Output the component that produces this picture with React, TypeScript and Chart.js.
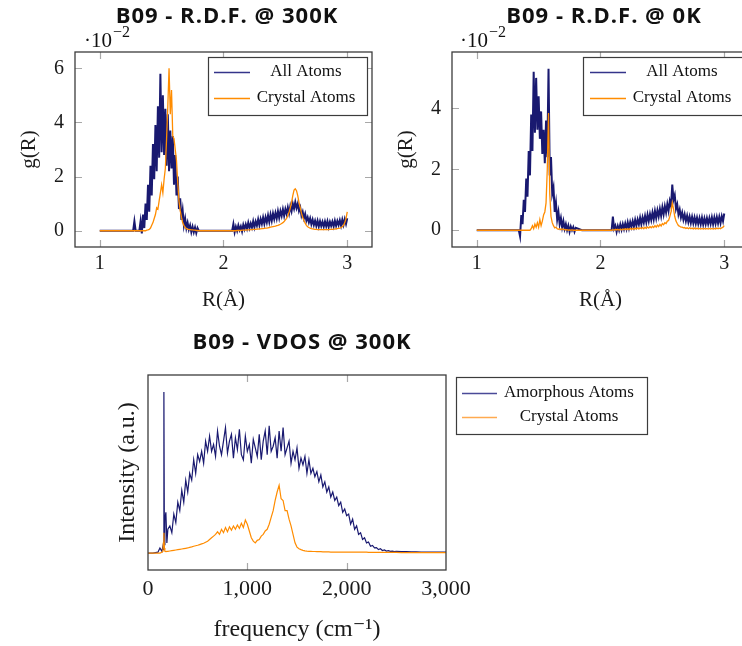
import React, { useEffect, useRef } from 'react';
import { Chart, registerables } from 'chart.js';
Chart.register(...registerables);

const SERIF = '"Liberation Serif", "DejaVu Serif", serif';
const SANS = '"Open Sans", Lato, sans-serif';
const BLUE = '#191970';
const ORANGE = '#ff8c00';

// ---------- R.D.F. data (shared R grid, Å) ----------
const rGrid = [
  1.00, 1.05, 1.10, 1.15, 1.20, 1.25, 1.27,
  1.28, 1.29, 1.30, 1.31, 1.32, 1.33, 1.34, 1.35, 1.36, 1.37,
  1.38, 1.39, 1.40, 1.41, 1.42, 1.43, 1.44, 1.45, 1.46, 1.47,
  1.48, 1.49, 1.50, 1.51, 1.52, 1.53, 1.54, 1.55, 1.56, 1.57,
  1.58, 1.59, 1.60, 1.61, 1.62, 1.63, 1.64, 1.65, 1.66, 1.67,
  1.68, 1.69, 1.70, 1.71, 1.72, 1.73, 1.74, 1.75, 1.76, 1.77,
  1.78, 1.79, 1.80,
  1.85, 1.90, 1.95, 2.00, 2.05, 2.07,
  2.08, 2.09, 2.10, 2.11, 2.12, 2.13, 2.14, 2.15, 2.16, 2.17,
  2.18, 2.19, 2.20, 2.21, 2.22, 2.23, 2.24, 2.25, 2.26, 2.27,
  2.28, 2.29, 2.30, 2.31, 2.32, 2.33, 2.34, 2.35, 2.36, 2.37,
  2.38, 2.39, 2.40, 2.41, 2.42, 2.43, 2.44, 2.45, 2.46, 2.47,
  2.48, 2.49, 2.50, 2.51, 2.52, 2.53, 2.54, 2.55, 2.56, 2.57,
  2.58, 2.59, 2.60, 2.61, 2.62, 2.63, 2.64, 2.65, 2.66, 2.67,
  2.68, 2.69, 2.70, 2.71, 2.72, 2.73, 2.74, 2.75, 2.76, 2.77,
  2.78, 2.79, 2.80, 2.81, 2.82, 2.83, 2.84, 2.85, 2.86, 2.87,
  2.88, 2.89, 2.90, 2.91, 2.92, 2.93, 2.94, 2.95, 2.96, 2.97,
  2.98, 2.99, 3.00,
];

// g(R) in units of 1e-2, 300K, all atoms
const rdf300All = [
  0, 0, 0, 0, 0, 0, 0,
  0.35, 0, 0, 0, 0, 0.35, -0.1, 0.6, 0.1, 1.0,
  0.4, 1.7, 0.7, 2.4, 1.3, 3.2, 1.9, 3.9, 2.2, 4.6,
  2.7, 5.8, 2.9, 5.0, 2.8, 4.5, 2.4, 4.3, 2.2, 3.7,
  2.3, 3.5, 1.7, 2.8, 1.3, 2.0, 0.8, 1.2, 0.4, 0.75,
  0.2, 0.45, 0.1, 0.3, 0.05, 0.2, -0.05, 0.15, -0.05, 0.12,
  -0.08, 0.1, 0,
  0, 0, 0, 0, 0, 0,
  0.25, -0.05, 0.15, 0.0, 0.2, 0.03, 0.16, -0.02, 0.22, 0.06,
  0.24, 0.08, 0.3, 0.1, 0.27, 0.12, 0.35, 0.13, 0.34, 0.19,
  0.42, 0.2, 0.43, 0.25, 0.49, 0.26, 0.5, 0.31, 0.57, 0.33,
  0.6, 0.37, 0.64, 0.43, 0.66, 0.45, 0.72, 0.48, 0.73, 0.55,
  0.79, 0.55, 0.8, 0.62, 0.86, 0.64, 0.91, 0.72, 1.0, 0.82,
  1.06, 0.84, 1.0, 0.73, 0.86, 0.56, 0.7, 0.46, 0.62, 0.37,
  0.5, 0.31, 0.46, 0.24, 0.41, 0.21, 0.37, 0.18, 0.37, 0.16,
  0.35, 0.17, 0.33, 0.15, 0.34, 0.16, 0.35, 0.14, 0.33, 0.18,
  0.34, 0.16, 0.37, 0.18, 0.36, 0.21, 0.39, 0.19, 0.41, 0.22,
  0.43, 0.25, 0.46,
];

// 300K, crystal atoms
const rdf300Crystal = [
  0, 0, 0, 0, 0, 0, 0,
  0, 0, 0, 0, 0, 0, 0, 0, 0, 0,
  0.02, 0.03, 0.05, 0.1, 0.2, 0.3, 0.45, 0.6, 0.85, 0.8,
  1.1, 1.4, 1.7, 1.4, 1.9, 2.3, 3.4, 4.6, 6.0, 4.3,
  5.2, 3.5, 3.4, 3.0, 2.6, 1.8, 1.1, 0.75, 0.5, 0.3,
  0.2, 0.12, 0.08, 0.06, 0.05, 0.04, 0.03, 0.03, 0.02, 0.02,
  0.01, 0.01, 0,
  0, 0, 0, 0, 0, 0,
  0, 0, 0, 0.01, 0.01, 0.01, 0.01, 0.02, 0.02, 0.02,
  0.02, 0.03, 0.03, 0.03, 0.04, 0.04, 0.05, 0.05, 0.05, 0.06,
  0.06, 0.07, 0.07, 0.08, 0.08, 0.09, 0.1, 0.1, 0.11, 0.12,
  0.13, 0.14, 0.15, 0.16, 0.17, 0.19, 0.2, 0.22, 0.24, 0.27,
  0.3, 0.34, 0.4, 0.46, 0.55, 0.68, 0.85, 1.05, 1.3, 1.5,
  1.55, 1.48, 1.3, 1.05, 0.85, 0.65, 0.5, 0.38, 0.28, 0.2,
  0.15, 0.12, 0.1, 0.08, 0.07, 0.06, 0.05, 0.05, 0.04, 0.04,
  0.04, 0.04, 0.04, 0.04, 0.04, 0.04, 0.04, 0.04, 0.05, 0.05,
  0.05, 0.06, 0.06, 0.07, 0.08, 0.09, 0.1, 0.12, 0.15, 0.2,
  0.3, 0.45, 0.7,
];

// 0K, all atoms
const rdf0All = [
  0, 0, 0, 0, 0, 0, 0,
  0, 0, 0, 0, 0, 0, 0, -0.2, 0.5, 0.2,
  1.0, 0.6, 1.7, 1.1, 2.6, 1.8, 3.8, 2.6, 5.2, 3.2,
  5.0, 3.3, 4.4, 3.0, 3.9, 2.5, 3.3, 2.2, 3.6, 2.4,
  5.3, 1.8, 2.4, 1.2, 1.4, 0.6, 0.9, 0.35, 0.6, 0.2,
  0.4, 0.1, 0.3, 0.05, 0.2, 0.0, 0.15, -0.05, 0.12, 0.0,
  0.1, -0.05, 0.08,
  0, 0, 0, 0, 0, 0,
  0, 0, 0.45, 0.05, 0.15, -0.05, 0.14, 0.0, 0.19, 0.02,
  0.2, 0.04, 0.22, 0.05, 0.26, 0.07, 0.27, 0.11, 0.3, 0.12,
  0.34, 0.15, 0.35, 0.19, 0.41, 0.2, 0.42, 0.25, 0.47, 0.26,
  0.51, 0.3, 0.53, 0.34, 0.58, 0.36, 0.63, 0.4, 0.65, 0.45,
  0.7, 0.47, 0.75, 0.52, 0.79, 0.58, 0.86, 0.64, 0.96, 0.8,
  1.5, 1.0, 1.15, 0.7, 0.85, 0.52, 0.68, 0.42, 0.58, 0.35,
  0.52, 0.3, 0.48, 0.27, 0.45, 0.24, 0.44, 0.23, 0.42, 0.22,
  0.41, 0.21, 0.4, 0.2, 0.41, 0.19, 0.39, 0.2, 0.4, 0.21,
  0.4, 0.21, 0.42, 0.2, 0.42, 0.22, 0.43, 0.23, 0.44, 0.24,
  0.46, 0.3, 0.55,
];

// 0K, crystal atoms
const rdf0Crystal = [
  0, 0, 0, 0, 0, 0, 0,
  0, 0, 0, 0, 0, 0, 0, 0, 0, 0,
  0, 0, 0, 0, 0, 0, 0.05, 0.15, 0.05, 0.2,
  0.1, 0.25, 0.1, 0.35, 0.15, 0.3, 0.5, 0.6, 0.9, 2.0,
  3.85, 1.2, 0.45, 0.25, 0.15, 0.08, 0.1, 0.05, 0.03, 0.05,
  0.02, 0.04, 0.02, 0.03, 0.01, 0.02, 0, 0.01, 0, 0.01,
  0, 0, 0,
  0, 0, 0, 0, 0, 0,
  0, 0, 0.02, 0.0, 0.03, 0.01, 0.03, 0.0, 0.04, 0.01,
  0.04, 0.02, 0.05, 0.02, 0.05, 0.02, 0.06, 0.03, 0.06, 0.03,
  0.07, 0.04, 0.08, 0.04, 0.08, 0.05, 0.09, 0.05, 0.1, 0.06,
  0.11, 0.07, 0.12, 0.08, 0.13, 0.09, 0.15, 0.1, 0.17, 0.12,
  0.19, 0.14, 0.22, 0.18, 0.25, 0.22, 0.3, 0.32, 0.45, 0.6,
  0.9, 0.7, 0.45, 0.3, 0.22, 0.15, 0.13, 0.1, 0.1, 0.08,
  0.09, 0.06, 0.08, 0.05, 0.08, 0.05, 0.07, 0.04, 0.07, 0.04,
  0.07, 0.04, 0.06, 0.04, 0.06, 0.04, 0.06, 0.04, 0.06, 0.04,
  0.06, 0.04, 0.06, 0.04, 0.06, 0.04, 0.07, 0.05, 0.07, 0.05,
  0.08, 0.1, 0.15,
];

// ---------- VDOS data (cm^-1, arbitrary units) ----------
const freq = [
  0, 50, 100, 120, 140, 150, 155, 160, 165, 170, 180, 190, 200,
  220, 240, 260, 280, 300, 320, 340, 360, 380, 400,
  420, 440, 460, 480, 500, 520, 540, 560, 580, 600,
  620, 640, 660, 680, 700, 720, 740, 760, 780, 800,
  820, 840, 860, 880, 900, 920, 940, 960, 980, 1000,
  1020, 1040, 1060, 1080, 1100, 1120, 1140, 1160, 1180, 1200,
  1220, 1240, 1260, 1280, 1300, 1320, 1340, 1360, 1380, 1400,
  1420, 1440, 1460, 1480, 1500, 1520, 1540, 1560, 1580, 1600,
  1620, 1640, 1660, 1680, 1700, 1720, 1740, 1760, 1780, 1800,
  1820, 1840, 1860, 1880, 1900, 1920, 1940, 1960, 1980, 2000,
  2020, 2040, 2060, 2080, 2100, 2120, 2140, 2160, 2180, 2200,
  2220, 2240, 2260, 2280, 2300, 2320, 2340, 2360, 2380, 2400,
  2420, 2440, 2460, 2480, 2500,
  2550, 2600, 2650, 2700, 2750, 2800, 2850, 2900, 2950, 3000,
];

const vdosAmorphous = [
  0, 0, 0.005, 0.03, 0.01, 0.04, 0.02, 0.95, 0.05, 0.2, 0.24, 0.06, 0.14,
  0.16, 0.12, 0.23, 0.18, 0.3, 0.25, 0.37, 0.3, 0.43, 0.36,
  0.47, 0.43, 0.55, 0.47, 0.58, 0.54, 0.6, 0.53, 0.66, 0.6,
  0.69, 0.6, 0.64, 0.57, 0.72, 0.63, 0.58, 0.66, 0.74, 0.59,
  0.66, 0.7, 0.56, 0.68, 0.61, 0.73, 0.58, 0.55, 0.69, 0.6,
  0.64, 0.53, 0.67, 0.62, 0.57, 0.7, 0.55, 0.66, 0.72, 0.58,
  0.75, 0.6, 0.63, 0.68, 0.56, 0.72, 0.6, 0.74, 0.58, 0.62,
  0.66, 0.53, 0.6, 0.55, 0.62, 0.5, 0.56, 0.52, 0.57, 0.47,
  0.55, 0.47, 0.5, 0.45, 0.48, 0.42, 0.46, 0.39, 0.42, 0.36,
  0.39, 0.33, 0.36, 0.31, 0.33, 0.28, 0.3, 0.24, 0.26, 0.22,
  0.23, 0.17, 0.2, 0.14, 0.16, 0.11, 0.12, 0.08, 0.09, 0.06,
  0.065, 0.04, 0.045, 0.03, 0.032, 0.02, 0.025, 0.015, 0.018, 0.012,
  0.014, 0.01, 0.011, 0.009, 0.01,
  0.008, 0.008, 0.007, 0.007, 0.006, 0.006, 0.005, 0.005, 0.005, 0.005,
];

const vdosCrystal = [
  0, 0, 0, 0, 0.005, 0.01, 0.06, 0.12, 0.03, 0.01, 0.008, 0.01, 0.01,
  0.012, 0.014, 0.016, 0.018, 0.02, 0.022, 0.024, 0.026, 0.028, 0.03,
  0.033, 0.036, 0.04, 0.043, 0.046, 0.05, 0.054, 0.058, 0.064, 0.07,
  0.08, 0.09, 0.1, 0.11, 0.125, 0.11, 0.14, 0.12, 0.15, 0.125,
  0.155, 0.135, 0.16, 0.14, 0.165, 0.145, 0.175, 0.15, 0.195, 0.17,
  0.13, 0.09, 0.07, 0.06, 0.075, 0.08, 0.1, 0.11, 0.13, 0.14,
  0.17, 0.21, 0.25, 0.31, 0.36, 0.4, 0.32, 0.31, 0.25, 0.25,
  0.2, 0.16, 0.11, 0.06, 0.035, 0.025, 0.02, 0.016, 0.013, 0.011,
  0.01, 0.01, 0.009, 0.009, 0.008, 0.008, 0.008, 0.007, 0.007, 0.007,
  0.007, 0.006, 0.006, 0.006, 0.006, 0.006, 0.005, 0.005, 0.005, 0.005,
  0.005, 0.005, 0.005, 0.005, 0.005, 0.005, 0.005, 0.005, 0.005, 0.005,
  0.004, 0.004, 0.004, 0.004, 0.004, 0.004, 0.004, 0.004, 0.004, 0.004,
  0.004, 0.004, 0.004, 0.004, 0.004,
  0.003, 0.003, 0.003, 0.003, 0.003, 0.003, 0.003, 0.003, 0.003, 0.003,
];

// ---------- tick values / labels ----------
const rdfXTicks = [1, 2, 3];
const rdf300YTicks = [0, 2, 4, 6];
const rdf0YTicks = [0, 2, 4];
const vdosXTicks = [0, 1000, 2000, 3000];

const rdfLabels = ['All Atoms', 'Crystal Atoms'];
const vdosLabels = ['Amorphous Atoms', 'Crystal Atoms'];

const toPoints = (xs: number[], ys: number[]) => xs.map((x, i) => ({ x, y: ys[i] }));

// ---------- decoration plugin (frame, inner ticks, title, legend) ----------
const decorPlugin = {
  id: 'decor',
  beforeDatasetsDraw(chart: any, _a: any, o: any) {
    const { ctx, chartArea: ca, scales } = chart;
    ctx.save();
    ctx.strokeStyle = '#a8a8a8';
    ctx.lineWidth = 1.2;
    ctx.beginPath();
    for (const v of o.xMarks || []) {
      const p = Math.round(scales.x.getPixelForValue(v)) + 0.5;
      ctx.moveTo(p, ca.bottom); ctx.lineTo(p, ca.bottom - 7);
      ctx.moveTo(p, ca.top); ctx.lineTo(p, ca.top + 7);
    }
    for (const v of o.yMarks || []) {
      const p = Math.round(scales.y.getPixelForValue(v)) + 0.5;
      ctx.moveTo(ca.left, p); ctx.lineTo(ca.left + 7, p);
      ctx.moveTo(ca.right, p); ctx.lineTo(ca.right - 7, p);
    }
    ctx.stroke();
    ctx.restore();
  },
  afterDatasetsDraw(chart: any, _a: any, o: any) {
    const { ctx, chartArea: ca } = chart;
    ctx.save();
    // frame
    ctx.strokeStyle = '#3c3c3c';
    ctx.lineWidth = 1.3;
    ctx.strokeRect(ca.left, ca.top, ca.right - ca.left, ca.bottom - ca.top);
    // title
    ctx.fillStyle = '#111';
    ctx.font = `bold ${o.titleSize}px ${SANS}`;
    ctx.textAlign = 'center';
    ctx.textBaseline = 'middle';
    try { (ctx as any).letterSpacing = '1px'; } catch (e) { /* ignore */ }
    ctx.fillText(o.title, o.titleX, o.titleY);
    try { (ctx as any).letterSpacing = '0px'; } catch (e) { /* ignore */ }
    // multiplier
    if (o.mult) {
      ctx.textAlign = 'left';
      ctx.textBaseline = 'alphabetic';
      ctx.font = `21px ${SERIF}`;
      ctx.fillText('\u00B710', o.mult.x, o.mult.y);
      const w = ctx.measureText('\u00B710').width;
      ctx.font = `16px ${SERIF}`;
      ctx.fillText('\u22122', o.mult.x + w + 1, o.mult.y - 10);
    }
    // legend
    const L = o.legend;
    ctx.fillStyle = '#ffffff';
    ctx.fillRect(L.x, L.y, L.w, L.h);
    ctx.strokeStyle = '#3c3c3c';
    ctx.lineWidth = 1.2;
    ctx.strokeRect(L.x + 0.5, L.y + 0.5, L.w, L.h);
    chart.data.datasets.forEach((ds: any, i: number) => {
      const y = L.rows[i];
      ctx.strokeStyle = ds.legendColor || ds.borderColor;
      ctx.lineWidth = 1.3;
      ctx.beginPath();
      ctx.moveTo(L.lineX[0], y + 0.5);
      ctx.lineTo(L.lineX[1], y + 0.5);
      ctx.stroke();
      ctx.fillStyle = '#111';
      ctx.font = `${L.font}px ${SERIF}`;
      ctx.textAlign = 'center';
      ctx.textBaseline = 'middle';
      ctx.fillText(ds.label, L.textX, y);
    });
    ctx.restore();
  },
};

function makeConfig(p: any) {
  return {
    type: 'line',
    data: {
      datasets: p.series.map((s: any) => ({
        label: s.label,
        data: toPoints(p.xs, s.ys),
        borderColor: s.color,
        legendColor: s.legendColor,
        borderWidth: s.width || 1,
        borderJoinStyle: 'miter',
        pointRadius: 0,
        tension: 0,
        fill: false,
        order: s.order,
      })),
    },
    options: {
      responsive: false,
      animation: false,
      locale: 'en-US',
      events: [],
      layout: { padding: p.padding },
      plugins: {
        legend: { display: false },
        tooltip: { enabled: false },
        title: { display: false },
        decor: p.decor,
      },
      scales: {
        x: {
          type: 'linear',
          min: p.xMin,
          max: p.xMax,
          grid: { display: false, drawTicks: false },
          border: { display: false },
          afterBuildTicks: (s: any) => { s.ticks = p.xTicks.map((v: number) => ({ value: v })); },
          afterFit: (s: any) => { s.height = p.xHeight; },
          ticks: { font: { family: SERIF, size: p.tickSize }, color: '#1a1a1a', padding: p.xTickPad, maxRotation: 0, autoSkip: false },
          title: { display: true, text: p.xTitle, font: { family: SERIF, size: p.axisTitleSize }, color: '#1a1a1a', padding: { top: 0, bottom: p.xTitlePad } },
        },
        y: {
          type: 'linear',
          min: p.yMin,
          max: p.yMax,
          grid: { display: false, drawTicks: false },
          border: { display: false },
          afterBuildTicks: (s: any) => { s.ticks = p.yTicks.map((v: number) => ({ value: v })); },
          afterFit: (s: any) => { s.width = p.yWidth; },
          ticks: { display: p.yTicks.length > 0, font: { family: SERIF, size: p.tickSize }, color: '#1a1a1a', padding: 11 },
          title: { display: true, text: p.yTitle, font: { family: SERIF, size: p.axisTitleSize }, color: '#1a1a1a', padding: { top: p.yTitlePad, bottom: 0 } },
        },
      },
    },
    plugins: [decorPlugin],
  };
}

const panels = [
  {
    key: 'rdf300', left: 0, top: 0, width: 380, height: 320,
    xs: rGrid,
    series: [
      { label: rdfLabels[0], ys: rdf300All, color: BLUE, legendColor: '#34348a', width: 2, order: 1 },
      { label: rdfLabels[1], ys: rdf300Crystal, color: ORANGE, width: 1.3, order: 0 },
    ],
    padding: { top: 52, left: 0, right: 8, bottom: 0 },
    xMin: 0.8, xMax: 3.2, yMin: -0.6, yMax: 6.6,
    xTicks: rdfXTicks, yTicks: rdf300YTicks,
    xHeight: 73, yWidth: 75, tickSize: 20, axisTitleSize: 21, xTickPad: 5,
    xTitle: 'R(Å)', yTitle: 'g(R)', xTitlePad: 7, yTitlePad: 17,
    decor: {
      xMarks: rdfXTicks, yMarks: rdf300YTicks,
      title: 'B09 - R.D.F. @ 300K', titleSize: 22, titleX: 227, titleY: 17,
      mult: { x: 84, y: 47 },
      legend: { x: 208, y: 57, w: 159, h: 58, rows: [72, 98], lineX: [214, 250], textX: 306, font: 17 },
    },
  },
  {
    key: 'rdf0', left: 390, top: 0, width: 370, height: 320,
    xs: rGrid,
    series: [
      { label: rdfLabels[0], ys: rdf0All, color: BLUE, legendColor: '#34348a', width: 2, order: 1 },
      { label: rdfLabels[1], ys: rdf0Crystal, color: ORANGE, width: 1.3, order: 0 },
    ],
    padding: { top: 52, left: 0, right: 11, bottom: 0 },
    xMin: 0.8, xMax: 3.2, yMin: -0.55, yMax: 5.85,
    xTicks: rdfXTicks, yTicks: rdf0YTicks,
    xHeight: 73, yWidth: 62, tickSize: 20, axisTitleSize: 21, xTickPad: 5,
    xTitle: 'R(Å)', yTitle: 'g(R)', xTitlePad: 7, yTitlePad: 4,
    decor: {
      xMarks: rdfXTicks, yMarks: rdf0YTicks,
      title: 'B09 - R.D.F. @ 0K', titleSize: 22, titleX: 214, titleY: 17,
      mult: { x: 70, y: 47 },
      legend: { x: 193, y: 57, w: 161, h: 58, rows: [72, 98], lineX: [200, 236], textX: 292, font: 17 },
    },
  },
  {
    key: 'vdos', left: 100, top: 330, width: 560, height: 316,
    xs: freq,
    series: [
      { label: vdosLabels[0], ys: vdosAmorphous, color: BLUE, legendColor: '#4a4a98', width: 1.2, order: 1 },
      { label: vdosLabels[1], ys: vdosCrystal, color: ORANGE, legendColor: '#ffaa50', width: 1.2, order: 0 },
    ],
    padding: { top: 45, left: 0, right: 214, bottom: 0 },
    xMin: 0, xMax: 3000, yMin: -0.1, yMax: 1.05,
    xTicks: vdosXTicks, yTicks: [],
    xHeight: 76, yWidth: 48, tickSize: 22, axisTitleSize: 24, xTickPad: 6,
    xTitle: 'frequency (cm\u207B\u00B9)', yTitle: 'Intensity (a.u.)', xTitlePad: 2, yTitlePad: 13,
    decor: {
      xMarks: [1000, 2000], yMarks: [],
      title: 'B09 - VDOS @ 300K', titleSize: 22, titleX: 202, titleY: 13,
      legend: { x: 356, y: 47, w: 191, h: 57, rows: [63, 87], lineX: [362, 397], textX: 469, font: 17 },
    },
  },
];

function Panel({ p }: { p: any }) {
  const ref = useRef<HTMLCanvasElement>(null);
  useEffect(() => {
    const chart = new Chart(ref.current as HTMLCanvasElement, makeConfig(p) as any);
    return () => chart.destroy();
  }, [p]);
  return (
    <canvas
      ref={ref}
      width={p.width}
      height={p.height}
      style={{ position: 'absolute', left: p.left, top: p.top, width: p.width, height: p.height }}
    />
  );
}

export default function App() {
  return (
    <div style={{ position: 'fixed', left: 0, top: 0, width: 742, height: 646, overflow: 'hidden', background: '#fff' }}>
      {panels.map((p) => (
        <Panel key={p.key} p={p} />
      ))}
    </div>
  );
}
